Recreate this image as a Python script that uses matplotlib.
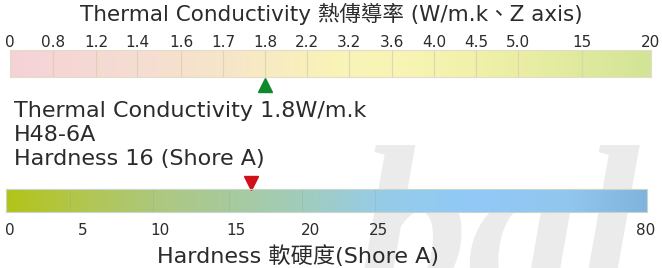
import numpy as np
import matplotlib
matplotlib.use("Agg")
import matplotlib.pyplot as plt
from matplotlib.colors import LinearSegmentedColormap

plt.rcParams["font.family"] = ["DejaVu Sans", "Noto Sans CJK TC"]

# data
tc_labels = ["0", "0.8", "1.2", "1.4", "1.6", "1.7", "1.8", "2.2", "3.2",
             "3.6", "4.0", "4.5", "5.0", "15", "20"]
tc_value = "1.8"
hard_ticks = [0, 5, 10, 15, 20, 25, 80]
hard_value = 16
product = "H48-6A"

# layout (pixel columns of the original scale graphics)
tc_pos = [10, 53, 96, 137, 181, 223, 265, 307, 349, 392, 434, 476, 518, 582, 651]
hard_pos = [10, 83, 160, 236, 311, 379, 646]
hard_div = [70, 153, 229, 302, 375]

W, H = 662, 268
fig = plt.figure(figsize=(W / 100, H / 100), dpi=100)
txt = "#2b2b2b"


def px_axes(x0, y0, x1, y1):
    ax = fig.add_axes([x0 / W, 1 - y1 / H, (x1 - x0) / W, (y1 - y0) / H])
    ax.patch.set_visible(False)
    return ax


# faint watermark behind everything
fig.text(498 / W, -32 / H, "bal", fontsize=160, family="Liberation Serif",
         weight="bold", style="italic", color="#ebebeb", ha="center",
         va="baseline", zorder=-5)

# top bar
cmap_tc = LinearSegmentedColormap.from_list("tc", [
    (0.0, "#f5d2d8"), (0.2, "#f5ddd2"), (0.35, "#f7e7c8"),
    (0.5, "#f9f3b8"), (0.62, "#f8f5b4"), (0.75, "#eef0a8"),
    (0.85, "#e4eca0"), (1.0, "#d3e496")])
ax1 = px_axes(tc_pos[0], 50, tc_pos[-1], 77)
ax1.imshow(np.linspace(0, 1, 256)[None, :], aspect="auto", cmap=cmap_tc,
           extent=(tc_pos[0], tc_pos[-1], 0, 1))
for p in tc_pos[1:-1]:
    ax1.axvline(p, color="#d8d0b0", lw=0.8, alpha=0.8)
ax1.set_xlim(tc_pos[0], tc_pos[-1])
ax1.set_ylim(0, 1)
ax1.set_yticks([])
ax1.set_xticks(tc_pos)
ax1.set_xticklabels(tc_labels, fontsize=11, color=txt)
ax1.tick_params(axis="x", top=True, labeltop=True, bottom=False,
                labelbottom=False, length=0, pad=0)
for s in ax1.spines.values():
    s.set_color("#e2dccc")
    s.set_linewidth(0.8)
ax1.plot(tc_pos[tc_labels.index(tc_value)], -0.3, marker="^", ms=9.5,
         color="#0f8a2a", clip_on=False)

# titles and description
fig.text(331 / W, 1 - 14 / H, "Thermal Conductivity 熱傳導率 (W/m.k、Z axis)",
         fontsize=15.5, color=txt, ha="center", va="center")
desc = [f"Thermal Conductivity {tc_value}W/m.k", product,
        f"Hardness {hard_value} (Shore A)"]
for i, line in enumerate(desc):
    fig.text(14 / W, 1 - (111 + 24 * i) / H, line, fontsize=16, color=txt,
             ha="left", va="center")

# bottom bar
cmap_h = LinearSegmentedColormap.from_list("hard", [
    (0.0, "#b2c418"), (0.12, "#b2c650"), (0.24, "#adc880"),
    (0.45, "#a2ccb8"), (0.58, "#97cce6"), (0.72, "#91c9f7"),
    (0.88, "#92c6ee"), (1.0, "#80b4dc")])
ax2 = px_axes(6, 189, 647, 212)
ax2.imshow(np.linspace(0, 1, 256)[None, :], aspect="auto", cmap=cmap_h,
           extent=(6, 647, 0, 1))
for p in hard_div:
    ax2.axvline(p, color="#7fa8a0", lw=0.6, alpha=0.3)
ax2.set_xlim(6, 647)
ax2.set_ylim(0, 1)
ax2.set_yticks([])
ax2.set_xticks(hard_pos)
ax2.set_xticklabels([str(v) for v in hard_ticks], fontsize=11, color=txt)
ax2.tick_params(axis="x", length=0, pad=8)
for s in ax2.spines.values():
    s.set_color("#c8d4cc")
    s.set_linewidth(0.8)
ax2.plot(np.interp(hard_value, hard_ticks, hard_pos), 1.28, marker="v",
         ms=9.5, color="#d0101a", clip_on=False)

fig.text(298 / W, 1 - 256 / H, "Hardness 軟硬度(Shore A)", fontsize=16,
         color=txt, ha="center", va="center")

fig.savefig("out.png", dpi=100)
